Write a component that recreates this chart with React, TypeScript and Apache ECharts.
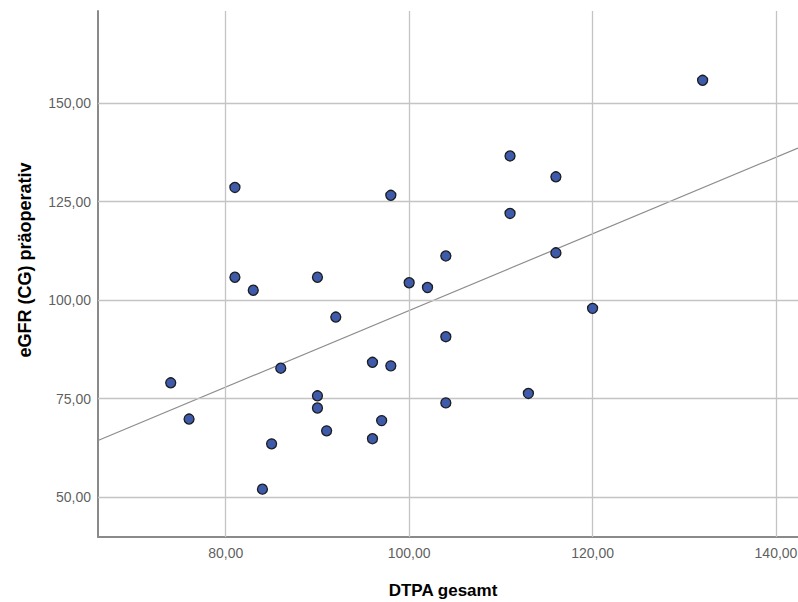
import React, { useEffect, useRef } from "react";
import * as echarts from "echarts";

const dtpa: number[] = [132, 111, 116, 81, 98, 111, 116, 104, 81, 90, 100, 102, 83, 120, 92, 104, 96, 98, 86, 74, 113, 90, 104, 90, 76, 97, 91, 96, 85, 84];
const egfr: number[] = [155.8, 136.6, 131.3, 128.6, 126.6, 122.0, 112.0, 111.2, 105.8, 105.8, 104.4, 103.2, 102.5, 97.9, 95.7, 90.7, 84.2, 83.3, 82.7, 79.0, 76.3, 75.7, 73.9, 72.6, 69.8, 69.4, 66.8, 64.8, 63.5, 52.0];
const xTicks: number[] = [80, 100, 120, 140];
const yTicks: number[] = [50, 75, 100, 125, 150];
const xTitle = "DTPA gesamt";
const yTitle = "eGFR (CG) präoperativ";
const xMin = 66.07;
const xMax = 142.4;
const yMin = 39.85;
const yMax = 173.4;

function fit(xs: number[], ys: number[]) {
  const n = xs.length;
  const mx = xs.reduce((a, b) => a + b, 0) / n;
  const my = ys.reduce((a, b) => a + b, 0) / n;
  let sxy = 0, sxx = 0;
  for (let i = 0; i < n; i++) {
    sxy += (xs[i] - mx) * (ys[i] - my);
    sxx += (xs[i] - mx) * (xs[i] - mx);
  }
  const b = sxy / sxx;
  return { a: my - b * mx, b };
}

const fmt = (v: number) => v.toFixed(2).replace(".", ",");

export default function App() {
  const ref = useRef<HTMLDivElement>(null);
  useEffect(() => {
    if (!ref.current) return;
    const chart = echarts.init(ref.current, undefined, { renderer: "svg" });
    const { a, b } = fit(dtpa, egfr);
    const font = "'Liberation Sans', Arial, sans-serif";
    chart.setOption({
      animation: false,
      backgroundColor: "#ffffff",
      grid: { left: 98, top: 11, right: 0, bottom: 65 },
      graphic: [
        {
          type: "text",
          x: 443,
          y: 582,
          style: {
            text: xTitle,
            fontFamily: font,
            fontSize: 17,
            fontWeight: "bold",
            fill: "#000",
            align: "center",
            verticalAlign: "top",
          },
        },
        {
          type: "text",
          x: 25,
          y: 260,
          rotation: Math.PI / 2,
          style: {
            text: yTitle,
            fontFamily: font,
            fontSize: 18,
            fontWeight: "bold",
            fill: "#000",
            align: "center",
            verticalAlign: "middle",
          },
        },
      ],
      xAxis: {
        type: "value",
        min: xMin,
        max: xMax,
        axisLine: { show: true, lineStyle: { color: "#8a8a8a", width: 2 } },
        axisTick: { show: false },
        splitLine: { show: false },
        axisLabel: { show: false },
      },
      yAxis: {
        type: "value",
        min: yMin,
        max: yMax,
        axisLine: { show: true, lineStyle: { color: "#8a8a8a", width: 2 } },
        axisTick: { show: false },
        splitLine: { show: false },
        axisLabel: { show: false },
      },
      series: [
        {
          type: "line",
          data: [[xMin, a + b * xMin], [xMax, a + b * xMax]],
          symbol: "none",
          lineStyle: { color: "#8c8c8c", width: 1.2 },
          z: 3,
          silent: true,
          markLine: {
            silent: true,
            symbol: "none",
            label: { show: false },
            lineStyle: { color: "#c4c4c4", type: "solid", width: 1.3 },
            data: [
              ...xTicks.map((v) => ({ xAxis: v })),
              ...yTicks.map((v) => ({ yAxis: v })),
            ],
          },
        },
        {
          type: "scatter",
          data: dtpa.map((x, i) => [x, egfr[i]]),
          symbol: "circle",
          symbolSize: 10,
          itemStyle: { color: "#3e5bab", borderColor: "#1c1c1c", borderWidth: 1.3, opacity: 1 },
          z: 5,
        },
        {
          type: "scatter",
          data: xTicks.map((v) => [v, yMin]),
          symbolSize: 0,
          silent: true,
          label: {
            show: true,
            position: "bottom",
            distance: 9,
            formatter: (p: any) => fmt(p.value[0]),
            fontFamily: font,
            fontSize: 14,
            color: "#333",
          },
        },
        {
          type: "scatter",
          data: yTicks.map((v) => [xMin, v]),
          symbolSize: 0,
          silent: true,
          label: {
            show: true,
            position: "left",
            distance: 7,
            formatter: (p: any) => fmt(p.value[1]),
            fontFamily: font,
            fontSize: 14,
            color: "#333",
          },
        },
      ],
    });
    return () => chart.dispose();
  }, []);
  return <div ref={ref} style={{ position: "absolute", left: 0, top: 0, width: 798, height: 602 }} />;
}
